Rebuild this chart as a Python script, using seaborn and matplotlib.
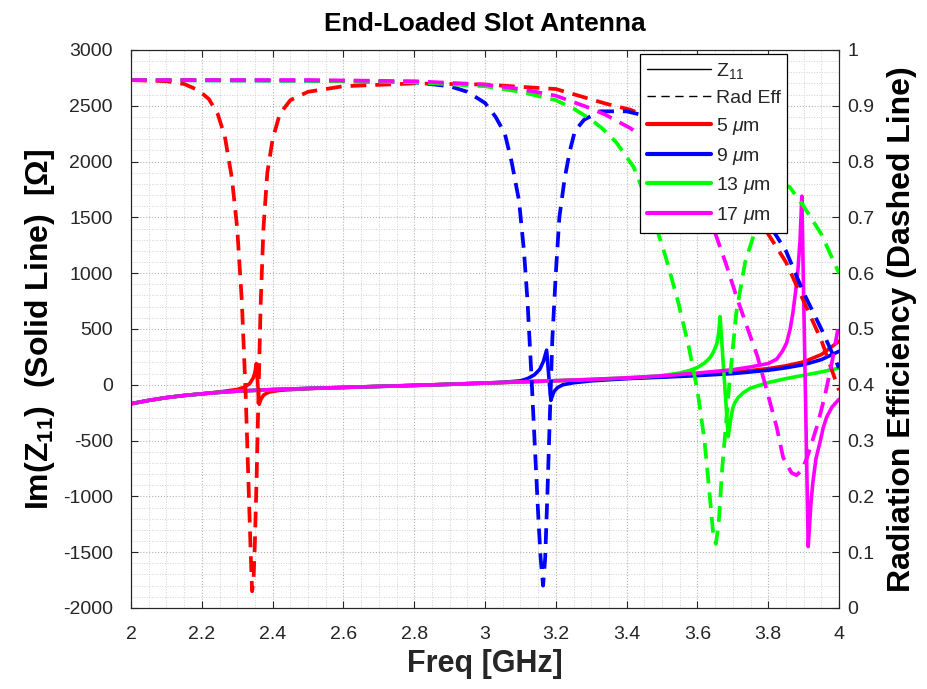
import matplotlib
matplotlib.use("Agg")
import matplotlib.pyplot as plt
from matplotlib.lines import Line2D
from matplotlib.ticker import MultipleLocator, FuncFormatter
import pandas as pd
import seaborn as sns

# ---------------- data ----------------
widths = ["5 $\\mu$m", "9 $\\mu$m", "13 $\\mu$m", "17 $\\mu$m"]
colors = ["#ff0000", "#0000ff", "#00ff00", "#ff00ff"]

# Im(Z11) [Ohm] versus frequency [GHz]
freq_z_5 = [2.00, 2.05, 2.10, 2.15, 2.20, 2.25, 2.30, 2.32, 2.335, 2.345, 2.350, 2.354,
            2.362, 2.367, 2.375, 2.39, 2.42, 2.50, 2.60, 2.70, 2.80, 2.90, 3.00, 3.10,
            3.20, 3.30, 3.40, 3.50, 3.60, 3.70, 3.80, 3.85, 3.90, 3.95, 4.00]
z11_5 = [-170, -140, -115, -96, -81, -64, -42, -22, 10, 60, 110, 190,
         -175, -130, -90, -65, -50, -34, -24, -14, -5, 5, 15, 25,
         35, 45, 57, 72, 88, 110, 145, 170, 205, 270, 390]

freq_z_9 = [2.00, 2.05, 2.10, 2.15, 2.20, 2.25, 2.30, 2.40, 2.50, 2.60, 2.70, 2.80,
            2.90, 3.00, 3.05, 3.10, 3.12, 3.14, 3.155, 3.165, 3.174, 3.186, 3.19,
            3.195, 3.205, 3.22, 3.25, 3.30, 3.40, 3.50, 3.60, 3.70, 3.80, 3.85,
            3.90, 3.95, 4.00]
z11_9 = [-170, -140, -115, -96, -81, -68, -57, -43, -33, -24, -15, -6,
         4, 16, 22, 35, 55, 90, 140, 210, 310, -140, -100,
         -60, -25, 0, 18, 35, 55, 68, 82, 100, 130, 152,
         180, 225, 300]

freq_z_13 = [2.00, 2.05, 2.10, 2.15, 2.20, 2.25, 2.30, 2.40, 2.50, 2.60, 2.70, 2.80,
             2.90, 3.00, 3.10, 3.20, 3.30, 3.40, 3.45, 3.50, 3.55, 3.58, 3.60, 3.62,
             3.635, 3.645, 3.655, 3.660, 3.664, 3.687, 3.690, 3.695, 3.700, 3.705,
             3.715, 3.73, 3.75, 3.80, 3.85, 3.90, 3.95, 4.00]
z11_13 = [-170, -140, -115, -96, -81, -68, -57, -43, -33, -24, -15, -6,
          4, 15, 26, 37, 48, 62, 70, 82, 105, 130, 155, 195,
          240, 290, 370, 460, 610, -465, -400, -290, -210, -165,
          -115, -70, -30, 20, 55, 85, 115, 150]

freq_z_17 = [2.00, 2.05, 2.10, 2.15, 2.20, 2.25, 2.30, 2.40, 2.50, 2.60, 2.70, 2.80,
             2.90, 3.00, 3.10, 3.20, 3.30, 3.40, 3.50, 3.60, 3.70, 3.75, 3.80, 3.824,
             3.84, 3.852, 3.862, 3.87, 3.878, 3.884, 3.89, 3.895, 3.913, 3.917,
             3.921, 3.926, 3.935, 3.946, 3.955, 3.965, 3.98, 4.00]
z11_17 = [-170, -140, -115, -96, -81, -68, -57, -43, -33, -24, -15, -6,
          4, 15, 26, 37, 48, 62, 80, 105, 135, 160, 190, 230,
          300, 375, 500, 650, 850, 1030, 1300, 1690, -1450, -1250,
          -1050, -880, -660, -520, -390, -290, -200, -130]

# Radiation efficiency versus frequency [GHz]
freq_eff_5 = [2.00, 2.10, 2.15, 2.19, 2.22, 2.245, 2.265, 2.285, 2.30, 2.313, 2.324,
              2.333, 2.338, 2.342, 2.346, 2.350, 2.355, 2.360, 2.366, 2.374, 2.385,
              2.40, 2.42, 2.45, 2.50, 2.60, 2.80, 3.00, 3.20, 3.34, 3.41, 3.50,
              3.60, 3.70, 3.75, 3.80, 3.85, 3.90, 3.95, 4.00]
eff_5 = [0.946, 0.944, 0.939, 0.928, 0.912, 0.885, 0.845, 0.77, 0.68, 0.55, 0.38,
         0.20, 0.10, 0.03, 0.05, 0.12, 0.24, 0.38, 0.54, 0.68, 0.78,
         0.84, 0.885, 0.91, 0.925, 0.935, 0.94, 0.938, 0.93, 0.904, 0.893, 0.87,
         0.835, 0.77, 0.72, 0.67, 0.62, 0.55, 0.48, 0.39]

freq_eff_9 = [2.00, 2.50, 2.80, 2.90, 2.95, 3.00, 3.03, 3.056, 3.075, 3.096, 3.11,
              3.12, 3.13, 3.14, 3.15, 3.157, 3.164, 3.17, 3.176, 3.182, 3.19, 3.20,
              3.21, 3.225, 3.24, 3.254, 3.28, 3.325, 3.40, 3.50, 3.60, 3.70, 3.80,
              3.85, 3.87, 3.90, 3.95, 4.00]
eff_9 = [0.946, 0.945, 0.942, 0.935, 0.925, 0.905, 0.88, 0.85, 0.80, 0.73, 0.64,
         0.55, 0.43, 0.30, 0.17, 0.09, 0.04, 0.09, 0.20, 0.32, 0.48, 0.60,
         0.70, 0.77, 0.82, 0.855, 0.875, 0.89, 0.89, 0.875, 0.84, 0.78, 0.69,
         0.64, 0.61, 0.565, 0.50, 0.43]

freq_eff_13 = [2.00, 2.50, 2.80, 3.00, 3.10, 3.20, 3.25, 3.30, 3.33, 3.37, 3.42, 3.47,
               3.51, 3.545, 3.575, 3.60, 3.62, 3.635, 3.645, 3.652, 3.66, 3.67, 3.69,
               3.71, 3.735, 3.76, 3.80, 3.84, 3.86, 3.90, 3.95, 4.00]
eff_13 = [0.946, 0.945, 0.942, 0.935, 0.925, 0.91, 0.895, 0.875, 0.86, 0.835, 0.79, 0.71,
          0.63, 0.55, 0.47, 0.39, 0.30, 0.20, 0.13, 0.115, 0.15, 0.25, 0.40,
          0.53, 0.62, 0.67, 0.72, 0.755, 0.755, 0.72, 0.67, 0.60]

freq_eff_17 = [2.00, 2.50, 2.80, 3.00, 3.10, 3.20, 3.30, 3.34, 3.41, 3.50, 3.55, 3.60,
               3.65, 3.68, 3.711, 3.74, 3.77, 3.796, 3.824, 3.842, 3.866, 3.88, 3.895,
               3.91, 3.925, 3.94, 3.96, 3.98, 4.00]
eff_17 = [0.946, 0.946, 0.944, 0.938, 0.93, 0.918, 0.895, 0.884, 0.86, 0.82, 0.78, 0.73,
          0.672, 0.618, 0.557, 0.504, 0.45, 0.39, 0.324, 0.27, 0.242, 0.238, 0.247,
          0.27, 0.30, 0.33, 0.38, 0.44, 0.51]

z_series = [(freq_z_5, z11_5), (freq_z_9, z11_9), (freq_z_13, z11_13), (freq_z_17, z11_17)]
eff_series = [(freq_eff_5, eff_5), (freq_eff_9, eff_9), (freq_eff_13, eff_13),
              (freq_eff_17, eff_17)]

# ---------------- style ----------------
sns.set_style("ticks")
plt.rcParams["font.family"] = ["Liberation Sans", "DejaVu Sans"]
plt.rcParams["mathtext.fontset"] = "custom"
plt.rcParams["mathtext.rm"] = "Liberation Sans"
plt.rcParams["mathtext.it"] = "Liberation Sans:italic"
plt.rcParams["mathtext.bf"] = "Liberation Sans:bold"
plt.rcParams["axes.unicode_minus"] = False

ink = "#262626"
fig = plt.figure(figsize=(9.28, 6.89), dpi=100)
ax = fig.add_axes([0.1412, 0.1176, 0.7629, 0.8099])
ax2 = ax.twinx()

dash = (0, (4.2, 2.4))
for (fz, zv), (fe, ev), col in zip(z_series, eff_series, colors):
    sns.lineplot(x=fz, y=zv, ax=ax, color=col, lw=2.6, estimator=None, sort=False)
    sns.lineplot(x=fe, y=ev, ax=ax2, color=col, lw=2.7, linestyle=dash,
                 estimator=None, sort=False)

# ---------------- axes ----------------
ax.set_xlim(2, 4)
ax.set_ylim(-2000, 3000)
ax2.set_ylim(0, 1)
ax.xaxis.set_major_locator(MultipleLocator(0.2))
ax.xaxis.set_minor_locator(MultipleLocator(0.05))
ax.yaxis.set_major_locator(MultipleLocator(500))
ax.yaxis.set_minor_locator(MultipleLocator(100))
ax2.yaxis.set_major_locator(MultipleLocator(0.1))
fmt = FuncFormatter(lambda v, p: f"{v:g}")
ax.xaxis.set_major_formatter(fmt)
ax2.yaxis.set_major_formatter(fmt)

ax.grid(which="major", linestyle=":", color="#b4b4b4", lw=0.8)
ax.grid(which="minor", linestyle=":", color="#d2d2d2", lw=0.7)
ax.set_axisbelow(True)

ax.tick_params(which="major", direction="in", length=5, width=0.8, colors=ink,
               labelsize=14, top=True, right=False)
ax.tick_params(axis="x", pad=13)
ax.tick_params(axis="y", pad=13)
ax.tick_params(which="minor", length=0, top=True)
ax2.tick_params(which="major", direction="in", length=5, width=0.8, colors=ink,
                labelsize=14, pad=6)
for a in (ax, ax2):
    for s in a.spines.values():
        s.set_color(ink)
        s.set_linewidth(0.8)

ax.set_xlabel("Freq [GHz]", fontsize=22, fontweight="bold", color=ink, labelpad=4)
ax.set_ylabel("Im(Z$_\\mathbf{11}$)  (Solid Line)  [Ω]", fontsize=23,
              fontweight="bold", color="black", labelpad=4)
ax2.set_ylabel("Radiation Efficiency (Dashed Line)", fontsize=23, fontweight="bold",
               color="black", labelpad=9)
ax.set_title("End-Loaded Slot Antenna", fontsize=19, fontweight="bold", color="black",
             pad=14)

handles = [Line2D([], [], color="black", lw=1.0, linestyle="-"),
           Line2D([], [], color="black", lw=1.0, linestyle=(0, (6, 4)))]
handles += [Line2D([], [], color=c, lw=3.0) for c in colors]
labels = ["Z$_{11}$", "Rad Eff"] + widths
leg = ax2.legend(handles, labels, loc="upper right", bbox_to_anchor=(0.927, 0.993),
                 fontsize=14, frameon=True, fancybox=False, shadow=False,
                 edgecolor="black", framealpha=1.0, borderpad=0.35,
                 labelspacing=0.45, handlelength=3.3, handletextpad=0.25,
                 borderaxespad=0.0)
leg.get_frame().set_linewidth(0.9)

fig.savefig("out.png", dpi=100)
